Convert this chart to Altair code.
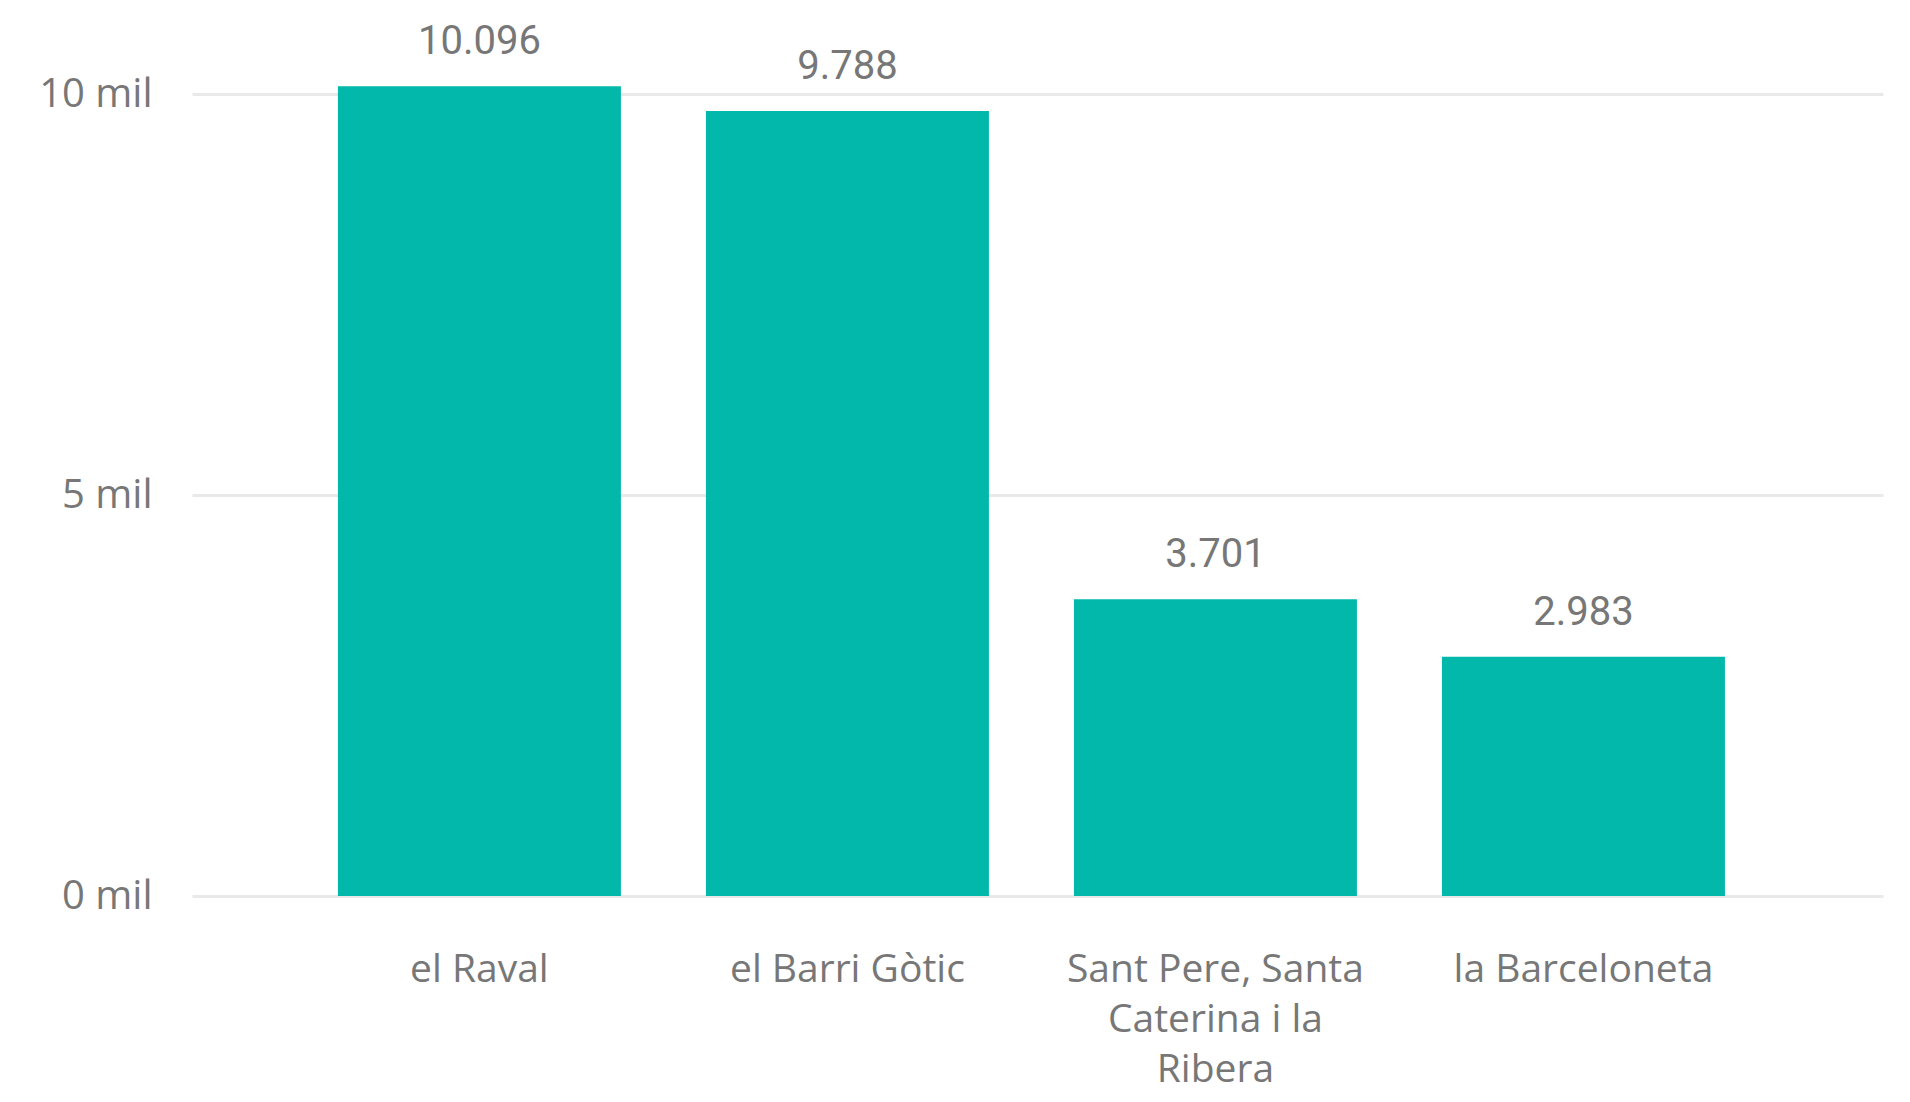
import altair as alt
import pandas as pd

categories = ["el Raval", "el Barri Gòtic", "Sant Pere, Santa Caterina i la Ribera", "la Barceloneta"]
values = [10096, 9788, 3701, 2983]
value_labels = ["10.096", "9.788", "3.701", "2.983"]
category_lines = [["el Raval"], ["el Barri Gòtic"], ["Sant Pere, Santa", "Caterina i la", "Ribera"], ["la Barceloneta"]]
y_ticks = [0, 5000, 10000]
y_tick_labels = ["0 mil", "5 mil", "10 mil"]

df = pd.DataFrame({"cat": categories, "val": values, "lbl": value_labels})

# label expressions built from the arrays above
parts = []
for c, lines in zip(categories, category_lines):
    arr = "[" + ",".join("'" + l + "'" for l in lines) + "]"
    parts.append(f"datum.label === '{c}' ? {arr} : ")
x_label_expr = "".join(parts) + "datum.label"
y_parts = []
for t, l in zip(y_ticks, y_tick_labels):
    y_parts.append(f"datum.value === {t} ? '{l}' : ")
y_label_expr = "".join(y_parts) + "''"

GRAY = "#777777"

x = alt.X("cat:N", sort=categories, title=None,
          scale=alt.Scale(paddingInner=0.231, paddingOuter=0.413, align=0.48),
          axis=alt.Axis(labelAngle=0, labelFont="Open Sans", labelFontSize=39,
                        labelColor=GRAY, labelPadding=54, labelBaseline="top",
                        labelLineHeight=50, ticks=False, domain=False,
                        labelExpr=x_label_expr, labelLimit=0))
y = alt.Y("val:Q", title=None,
          scale=alt.Scale(domain=[0, 10000], nice=False),
          axis=alt.Axis(values=y_ticks, labelExpr=y_label_expr, labelFont="Open Sans",
                        labelFontSize=40, labelColor=GRAY, labelPadding=40,
                        ticks=False, domain=False, gridColor="#e9e9e9",
                        gridWidth=3))

bars = alt.Chart(df).mark_bar(color="#01B8AA").encode(x=x, y=y)
labels = alt.Chart(df).mark_text(font="Roboto", fontSize=40, color=GRAY,
                                 baseline="alphabetic", dy=-32).encode(
    x=alt.X("cat:N", sort=categories),
    y="val:Q",
    text="lbl:N")

chart = alt.layer(bars, labels).properties(
    width=1691, height=802,
    background="white",
    autosize=alt.AutoSizeParams(type="none"),
    padding={"left": 184, "top": 86, "right": 18, "bottom": 190},
).configure_view(stroke=None, strokeWidth=0)

chart.save("out.html", embed_options={"renderer": "svg", "actions": False})
